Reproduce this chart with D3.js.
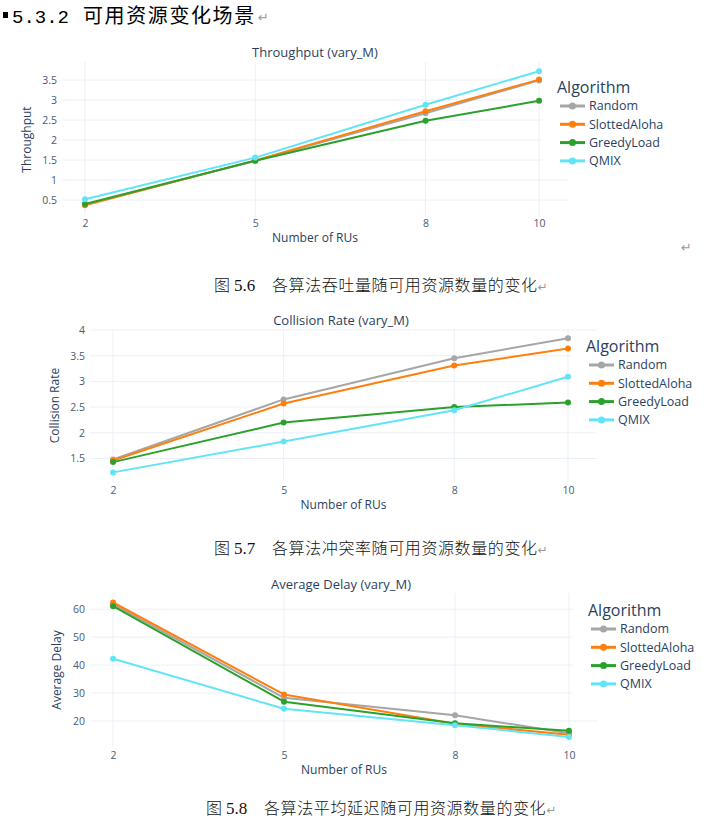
<!DOCTYPE html>
<html>
<head>
<meta charset="utf-8">
<script src="https://cdn.jsdelivr.net/npm/d3@7"></script>
<style>
  body{margin:0;background:#fff;}
  svg{display:block;}
</style>
</head>
<body>
<div id="page"></div>
<script>
// donnees
const nbRUs = [2, 5, 8, 10];
const algorithmes = ["Random", "SlottedAloha", "GreedyLoad", "QMIX"];
const couleurs = ["#a6a6a6", "#ff7f0e", "#2ca02c", "#62e4f7"];

const throughputRandom = [0.38, 1.48, 2.67, 3.49];
const throughputAloha  = [0.37, 1.49, 2.72, 3.51];
const throughputGreedy = [0.40, 1.48, 2.48, 2.98];
const throughputQmix   = [0.52, 1.56, 2.88, 3.72];

const collisionRandom = [1.48, 2.65, 3.45, 3.84];
const collisionAloha  = [1.46, 2.57, 3.31, 3.64];
const collisionGreedy = [1.43, 2.20, 2.50, 2.59];
const collisionQmix   = [1.23, 1.83, 2.44, 3.09];

const delayRandom = [61.7, 28.3, 22.1, 15.6];
const delayAloha  = [62.4, 29.5, 19.0, 15.1];
const delayGreedy = [61.1, 26.9, 19.2, 16.5];
const delayQmix   = [42.3, 24.4, 18.5, 14.3];

const ticksThroughput = [0.5, 1, 1.5, 2, 2.5, 3, 3.5];
const ticksCollision  = [1.5, 2, 2.5, 3, 3.5, 4];
const ticksDelay      = [20, 30, 40, 50, 60];

const svg = d3.select("#page").append("svg").attr("width", 709).attr("height", 823);
const policePlotly = "'Open Sans', 'Noto Sans', sans-serif";

// titre de section
let entete = svg.append("text").attr("y", 23).attr("fill", "#000");
svg.append("rect").attr("x", 3).attr("y", 12).attr("width", 5).attr("height", 6).attr("fill", "#000");
entete.append("tspan").attr("x", 12).attr("font-family", "'Liberation Mono', monospace").attr("font-size", 19).text("5.3.2 ");
entete.append("tspan").attr("x", 83).attr("font-family", "'Noto Sans CJK SC', sans-serif").attr("font-size", 20).attr("letter-spacing", 1.6).text("可用资源变化场景");
svg.append("text").attr("x", 258).attr("y", 22).attr("font-size", 13).attr("fill", "#999").attr("font-family", "'DejaVu Sans'").text("↵");
svg.append("text").attr("x", 681).attr("y", 252).attr("font-size", 13).attr("fill", "#999").attr("font-family", "'DejaVu Sans'").text("↵");

function dessineGraphe(opt){
    let x = d3.scaleLinear().domain([1.595, 10.51]).range([opt.gauche, opt.droite]);
    let y = d3.scaleLinear().domain(opt.domaineY).range([opt.bas, opt.haut]);
    let g = svg.append("g");

    // grille
    g.selectAll(".gy").data(opt.ticks).enter().append("line")
        .attr("x1", opt.gauche).attr("x2", opt.droite)
        .attr("y1", d => y(d)).attr("y2", d => y(d))
        .attr("stroke", "#ebf0f8").attr("stroke-width", 1);
    g.selectAll(".gx").data(nbRUs).enter().append("line")
        .attr("x1", d => x(d)).attr("x2", d => x(d))
        .attr("y1", opt.haut).attr("y2", opt.bas)
        .attr("stroke", "#ebf0f8").attr("stroke-width", 1);

    // axes
    let axeY = d3.axisLeft(y).tickValues(opt.ticks).tickSize(0).tickPadding(5).tickFormat(d3.format("~g"));
    let gy = g.append("g").attr("transform", "translate(" + opt.gauche + ",0)").call(axeY);
    let axeX = d3.axisBottom(x).tickValues(nbRUs).tickSize(0).tickPadding(0).tickFormat(d3.format("d"));
    let gx = g.append("g").attr("transform", "translate(0," + (opt.yTicksX - 6) + ")").call(axeX);
    [gx, gy].forEach(a => {
        a.select(".domain").remove();
        a.selectAll("text").attr("font-family", policePlotly).attr("font-size", 10.5).attr("fill", "#4a5a75");
    });

    // courbes
    let ligne = d3.line().x((d, i) => x(nbRUs[i])).y(d => y(d));
    opt.series.forEach((serie, s) => {
        g.append("path").attr("d", ligne(serie)).attr("fill", "none")
            .attr("stroke", couleurs[s]).attr("stroke-width", 2).attr("stroke-linejoin", "round");
        g.selectAll(".m" + s).data(serie).enter().append("circle")
            .attr("cx", (d, i) => x(nbRUs[i])).attr("cy", d => y(d)).attr("r", 3)
            .attr("fill", couleurs[s]);
    });

    // titres
    g.append("text").attr("x", opt.titreX).attr("y", opt.titreY).attr("text-anchor", "middle")
        .attr("font-family", policePlotly).attr("font-size", 13).attr("fill", "#2a3f5f").text(opt.titre);
    g.append("text").attr("x", (opt.gauche + opt.droite) / 2).attr("y", opt.titreXY).attr("text-anchor", "middle")
        .attr("font-family", policePlotly).attr("font-size", 12).attr("fill", "#2a3f5f").text("Number of RUs");
    g.append("text").attr("transform", "translate(" + opt.titreYX + "," + (opt.haut + opt.bas) / 2 + ") rotate(-90)")
        .attr("text-anchor", "middle").attr("dy", "0.35em")
        .attr("font-family", policePlotly).attr("font-size", 12).attr("fill", "#2a3f5f").text(opt.titreAxeY);

    // legende
    let lg = g.append("g");
    lg.append("rect").attr("x", opt.legX - 18).attr("y", opt.legY - 16).attr("width", 709 - opt.legX + 18)
        .attr("height", 100).attr("fill", "#fff");
    lg.append("text").attr("x", opt.legX - 3).attr("y", opt.legY + 5).attr("font-family", policePlotly)
        .attr("font-size", 16).attr("fill", "#2a3f5f").text("Algorithm");
    algorithmes.forEach((nom, i) => {
        let yy = opt.legY + 18 + i * 18.3;
        lg.append("line").attr("x1", opt.legX).attr("x2", opt.legX + 25).attr("y1", yy).attr("y2", yy)
            .attr("stroke", couleurs[i]).attr("stroke-width", 3);
        lg.append("circle").attr("cx", opt.legX + 12.5).attr("cy", yy).attr("r", 3.5).attr("fill", couleurs[i]);
        lg.append("text").attr("x", opt.legX + 29).attr("y", yy).attr("dy", "0.35em")
            .attr("font-family", policePlotly).attr("font-size", 12.5).attr("fill", "#2a3f5f").text(nom);
    });

    // legende de la figure
    let cap = svg.append("text").attr("y", opt.legendeY).attr("fill", "#111").attr("font-size", 16);
    cap.append("tspan").attr("x", opt.legendeX).attr("font-family", "'Noto Sans CJK SC'").attr("font-weight", 300).text("图");
    cap.append("tspan").attr("x", opt.legendeX + 20).attr("font-family", "'Liberation Serif', serif").attr("font-size", 17).text(opt.numero);
    cap.append("tspan").attr("x", opt.legendeX + 58).attr("font-family", "'Noto Sans CJK SC'").attr("font-weight", 300).attr("letter-spacing", 0.6).text(opt.texte);
    cap.append("tspan").attr("font-family", "'DejaVu Sans'").attr("font-size", 12).attr("fill", "#999").text("↵");
}

dessineGraphe({
    series: [throughputRandom, throughputAloha, throughputGreedy, throughputQmix],
    ticks: ticksThroughput, domaineY: [0.075, 3.95],
    gauche: 62, droite: 568, haut: 62, bas: 217,
    titre: "Throughput (vary_M)", titreX: 315, titreY: 57,
    titreAxeY: "Throughput", titreYX: 27, yTicksX: 226, titreXY: 242,
    legX: 560, legY: 88,
    legendeX: 214, legendeY: 291, numero: "5.6", texte: "各算法吞吐量随可用资源数量的变化"
});

dessineGraphe({
    series: [collisionRandom, collisionAloha, collisionGreedy, collisionQmix],
    ticks: ticksCollision, domaineY: [1.043, 4.02],
    gauche: 90, droite: 597, haut: 329, bas: 482,
    titre: "Collision Rate (vary_M)", titreX: 341, titreY: 325,
    titreAxeY: "Collision Rate", titreYX: 55, yTicksX: 493, titreXY: 509,
    legX: 589, legY: 347,
    legendeX: 214, legendeY: 554, numero: "5.7", texte: "各算法冲突率随可用资源数量的变化"
});

dessineGraphe({
    series: [delayRandom, delayAloha, delayGreedy, delayQmix],
    ticks: ticksDelay, domaineY: [10.7, 65.8],
    gauche: 90, droite: 598, haut: 593, bas: 747,
    titre: "Average Delay (vary_M)", titreX: 341, titreY: 589,
    titreAxeY: "Average Delay", titreYX: 57, yTicksX: 758, titreXY: 774,
    legX: 591, legY: 611,
    legendeX: 206, legendeY: 814, numero: "5.8", texte: "各算法平均延迟随可用资源数量的变化"
});
</script>
</body>
</html>
